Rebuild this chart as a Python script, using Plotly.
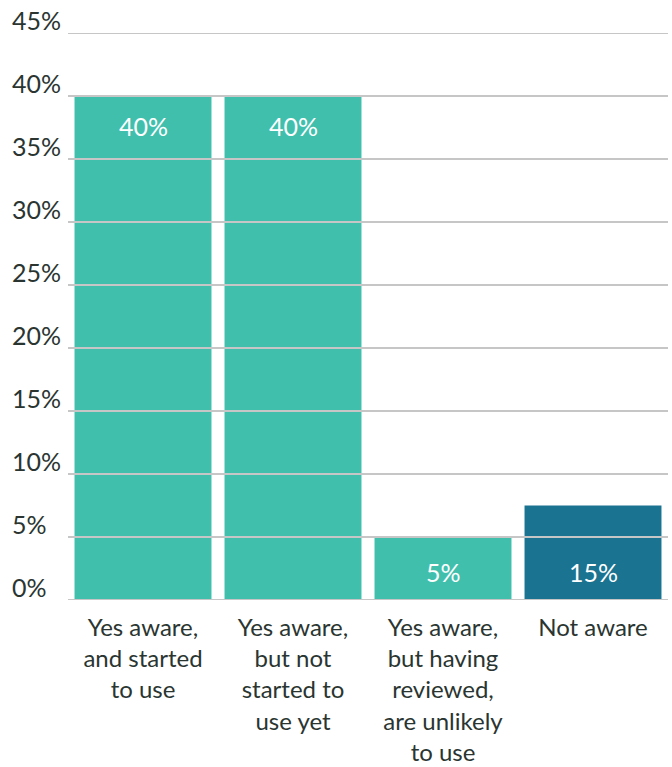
import plotly.graph_objects as go

categories = ["Yes aware,<br>and started<br>to use",
              "Yes aware,<br>but not<br>started to<br>use yet",
              "Yes aware,<br>but having<br>reviewed,<br>are unlikely<br>to use",
              "Not aware"]
bar_values = [40, 40, 5, 7.5]
bar_labels = ["40%", "40%", "5%", "15%"]
bar_colors = ["#40bfad", "#40bfad", "#40bfad", "#1a7390"]
y_ticks = [0, 5, 10, 15, 20, 25, 30, 35, 40, 45]
y_tick_labels = ["0%", "5%", "10%", "15%", "20%", "25%", "30%", "35%", "40%", "45%"]

FONT = "Lato"
TEXT_COLOR = "#2a3531"
GRID_COLOR = "#c6c6c6"

fig = go.Figure()
fig.add_trace(go.Bar(
    x=categories, y=bar_values,
    marker=dict(color=bar_colors, line=dict(width=0)),
    hoverinfo="skip",
))

# gridlines above bars
for t in y_ticks:
    fig.add_shape(type="line", xref="paper", yref="y", x0=0, x1=1, y0=t, y1=t,
                  line=dict(color=GRID_COLOR, width=2), layer="above")

# y tick labels, left aligned, sitting above the gridline
for t, lab in zip(y_ticks, y_tick_labels):
    fig.add_annotation(xref="paper", yref="y", x=0, y=t, text=lab, showarrow=False,
                       xanchor="left", yanchor="middle", xshift=-58, yshift=13,
                       font=dict(family=FONT, size=25, color=TEXT_COLOR))

# bar data labels
for c, v, lab in zip(categories, bar_values, bar_labels):
    if v >= 10:
        y, ys = v, -30
    else:
        y, ys = 0, 28
    fig.add_annotation(x=c, y=y, xref="x", yref="y", text=lab, showarrow=False,
                       xanchor="center", yanchor="middle", yshift=ys,
                       font=dict(family=FONT, size=25, color="white"))

fig.update_layout(
    width=672, height=767,
    margin=dict(l=68, r=4, t=33, b=167, autoexpand=False),
    plot_bgcolor="white", paper_bgcolor="white",
    bargap=0.087,
    showlegend=False,
    xaxis=dict(showgrid=False, showline=False, zeroline=False, ticks="",
               tickfont=dict(family=FONT, size=24, color=TEXT_COLOR),
               ticklabelstandoff=11, automargin=False),
    yaxis=dict(range=[0, 45], showgrid=False, zeroline=False, showline=False,
               showticklabels=False, ticks="", automargin=False),
)

fig.write_html("out.html")
